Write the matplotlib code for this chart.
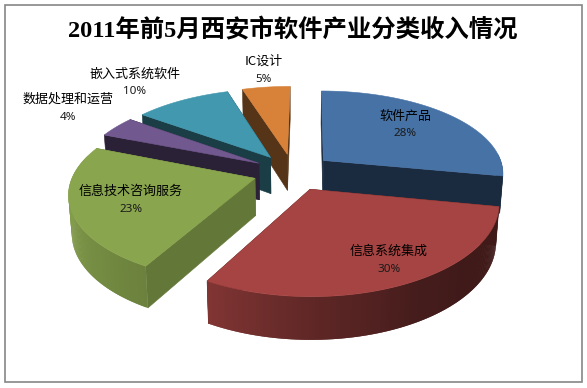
import numpy as np
import matplotlib
matplotlib.use('Agg')
import matplotlib.pyplot as plt
from matplotlib.patches import Rectangle

names = ['软件产品', '信息系统集成', '信息技术咨询服务', '数据处理和运营', '嵌入式系统软件', 'IC设计']
values = [28, 30, 23, 4, 10, 5]
colors = ['#4672A6', '#A54442', '#89A54E', '#71588F', '#4198AF', '#D88239']
face_shade = [0.38, 0.38, 0.72, 0.38, 0.40, 0.40]
label_x = [405, 389, 131, 68, 135, 264]
label_y = [116, 251, 191, 99, 74, 61]
title = '2011年前5月西安市软件产业分类收入情况'

# perspective of the pie plane, in pixels
cx, cy = 293, 172
sx, sy = 181, 84
kx, ky = 0.15, 0.16
skew = 2
explode = 0.22
depth = 37
shrink = 0.985

CJK = ['Noto Sans CJK SC', 'DejaVu Sans']


def project(u, v):
    return cx + skew * v + sx * u / (1 + kx * v), cy - sy * v / (1 + ky * v)


def shade(col, f):
    return tuple(np.clip(np.array(matplotlib.colors.to_rgb(col)) * f, 0, 1))


def wall_factor(deg):
    return np.interp(deg, [0, 130, 150, 180, 208, 260, 360],
                     [0.38, 0.38, 0.42, 0.58, 0.78, 0.95, 0.95])


def lower(x, y, v):
    return cx + (x - cx) * shrink, y + depth / (1 + 0.12 * v)


fig = plt.figure(figsize=(5.87, 3.88), dpi=100)
ax = fig.add_axes([0, 0, 1, 1])
ax.set_xlim(0, 587)
ax.set_ylim(388, 0)
ax.axis('off')
ax.add_patch(Rectangle((4.5, 4.5), 577.5, 377.5, fc='white', ec='#868686', lw=1.2))

stops = np.cumsum([0] + values) / sum(values) * 360
# back to front
order = [5, 0, 4, 3, 2, 1]
for i in order:
    t0, t1 = stops[i], stops[i + 1]
    mid = np.radians((t0 + t1) / 2)
    eu, ev = explode * np.sin(mid), explode * np.cos(mid)
    th = np.linspace(t0, t1, max(int(t1 - t0) * 2, 4))
    rim_v = ev + np.cos(np.radians(th))
    rim_x, rim_y = project(eu + np.sin(np.radians(th)), rim_v)
    ax_x, ax_y = project(eu, ev)
    low_x, low_y = lower(rim_x, rim_y, rim_v)
    alow_x, alow_y = lower(ax_x, ax_y, ev)
    # cut faces, the one further back first
    faces = [([ax_x, rim_x[0], low_x[0], alow_x], [ax_y, rim_y[0], low_y[0], alow_y]),
             ([ax_x, rim_x[-1], low_x[-1], alow_x], [ax_y, rim_y[-1], low_y[-1], alow_y])]
    faces.sort(key=lambda f: np.mean(f[1]))
    c = shade(colors[i], face_shade[i])
    for fx, fy in faces:
        ax.fill(fx, fy, fc=c, ec=c, lw=0.4)
    # outer wall, only the part turned to the viewer, shaded along the arc
    for j in range(len(th) - 1):
        if not 85 < th[j] < 285:
            continue
        e = min(j + 2, len(th) - 1)
        c = shade(colors[i], wall_factor(th[j]))
        ax.fill([rim_x[j], rim_x[e], low_x[e], low_x[j]],
                [rim_y[j], rim_y[e], low_y[e], low_y[j]], fc=c, ec='none')
    ax.fill(np.r_[ax_x, rim_x], np.r_[ax_y, rim_y], fc=colors[i], ec=colors[i], lw=0.4)

for n, v, x, y in zip(names, values, label_x, label_y):
    ax.text(x, y, n, ha='center', va='center', fontsize=9.4, color='black', family=CJK)
    ax.text(x, y + 18, f'{v}%', ha='center', va='center', fontsize=8.4, color='#1a1a1a', family='Noto Sans')

ax.text(293, 30, title, ha='center', va='center', fontsize=17.6, weight='bold',
        family=['Liberation Serif', 'Noto Sans CJK SC'], color='black')

fig.savefig('out.png', dpi=100)
